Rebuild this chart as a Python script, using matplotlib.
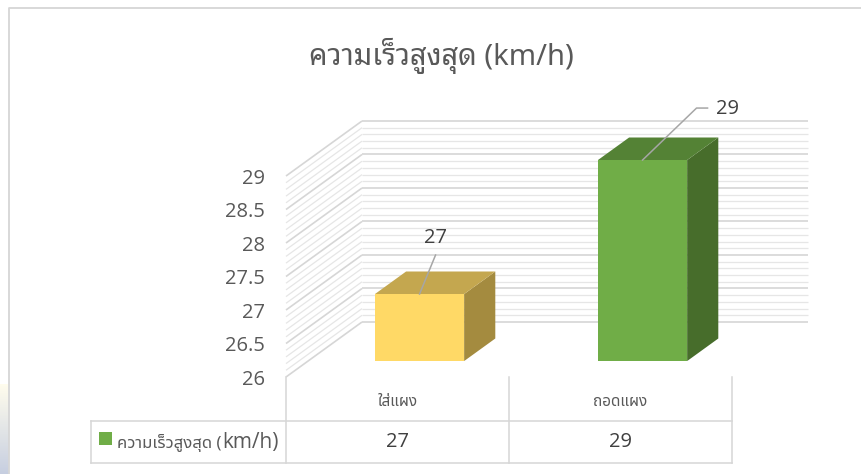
import numpy as np
import matplotlib
matplotlib.use("Agg")
import matplotlib.pyplot as plt
import matplotlib.transforms as mtransforms
from matplotlib.patches import Polygon, Rectangle
from matplotlib.lines import Line2D

# data
categories = ["ใส่แผง", "ถอดแผง"]
values = [27, 29]
series_name = "ความเร็วสูงสุด (km/h)"
title = "ความเร็วสูงสุด (km/h)"
y_min, y_max, y_step, y_minor = 26, 29, 0.5, 0.1

# styling
W, H, DPI = 862, 474, 100
TXT = "#595959"
GRID_MAJOR = "#d6d6d6"
GRID_MINOR = "#e6e6e6"
FRONT = ["#ffd966", "#70ad47"]
TOP = ["#c4a74f", "#548235"]
SIDE = ["#a48b3f", "#476d2b"]
LATIN = ["Open Sans", "DejaVu Sans"]
THAI_LOOP = ["Noto Sans Thai Looped", "Open Sans", "DejaVu Sans"]
THAI = ["Noto Sans Thai", "Open Sans", "DejaVu Sans"]
DX, DY = 76, 55          # depth offset of the back wall, px
Z0, Z1 = 0.29, 0.70      # bar depth span (fraction of full depth)
HALF_W = 0.2             # half bar width in category units

fig = plt.figure(figsize=(W / DPI, H / DPI), dpi=DPI)
fig.patch.set_facecolor("white")

def fx(px):
    return px / W

def fy(py):
    return 1 - py / H

# faint backdrop showing at the lower left outside the chart frame
bg = fig.add_axes([0, 0, fx(9), 90 / H])
grad = np.linspace(0, 1, 64)[:, None, None]
c_top = np.array([1.0, 0.99, 0.93])
c_bot = np.array([0.78, 0.81, 0.88])
bg.imshow(c_top * (1 - grad) + c_bot * grad, aspect="auto", extent=(0, 1, 0, 1))
bg.set_axis_off()

# front plane of the 3-D plot
left, right, top_px, bot_px = 286, 732, 176, 377
ax = fig.add_axes([fx(left), fy(bot_px), fx(right - left), (bot_px - top_px) / H])
ax.set_xlim(0, len(categories))
ax.set_ylim(y_min, y_max)
ax.patch.set_visible(False)
for s in ax.spines.values():
    s.set_visible(False)
ax.set_xticks([])
yt = np.arange(y_min, y_max + 1e-9, y_step)
ax.set_yticks(yt)
ax.set_yticklabels([f"{v:g}" for v in yt], fontsize=14.5, color=TXT, family=LATIN)
ax.tick_params(axis="y", length=0, pad=15)

ident = mtransforms.IdentityTransform()

def P(x, v, z):
    d = ax.transData.transform((x, v))
    return (d[0] + z * DX, d[1] + z * DY)

def seg(p, q, color, lw, zorder=1):
    ax.add_line(Line2D([p[0], q[0]], [p[1], q[1]], color=color, lw=lw,
                       transform=ident, clip_on=False, zorder=zorder,
                       solid_capstyle="butt"))

# back wall and side wall gridlines
n = len(categories)
for v in np.arange(y_min, y_max + 1e-9, y_minor):
    major = abs(v / y_step - round(v / y_step)) < 1e-6
    c = GRID_MAJOR if major else GRID_MINOR
    lw = 1.2 if major else 0.9
    z = 1.5 if major else 1
    seg(P(0, v, 1), P(n, v, 1), c, lw, zorder=z)
    seg(P(0, v, 0), P(0, v, 1), c, lw, zorder=z)

# 3-D bars
for i, v in enumerate(values):
    c = i + 0.5
    xl, xr = c - HALF_W, c + HALF_W
    front = [P(xl, y_min, Z0), P(xr, y_min, Z0), P(xr, v, Z0), P(xl, v, Z0)]
    topf = [P(xl, v, Z0), P(xr, v, Z0), P(xr, v, Z1), P(xl, v, Z1)]
    side = [P(xr, y_min, Z0), P(xr, y_min, Z1), P(xr, v, Z1), P(xr, v, Z0)]
    for verts, col in ((side, SIDE[i]), (topf, TOP[i]), (front, FRONT[i])):
        ax.add_patch(Polygon(verts, closed=True, facecolor=col, edgecolor="none",
                             transform=ident, clip_on=False, zorder=3))

# data labels with leader lines
label_leaders = [[(0, 0), (16, 39)], [(0, 0), (54, 52), (65, 52)]]
label_pos = [((16, 56), "center"), ((73, 51), "left")]
for i, v in enumerate(values):
    sx, sy = P(i + 0.5, v, Z0)
    pts = label_leaders[i]
    xs = [sx + p[0] for p in pts]
    ys = [sy + p[1] for p in pts]
    ax.add_line(Line2D(xs, ys, color="#a6a6a6", lw=1.1, transform=ident,
                       clip_on=False, zorder=4))
    (ox, oy), ha = label_pos[i]
    ax.text(sx + ox, sy + oy, f"{v:g}", transform=ident, ha=ha, va="center",
            fontsize=14.5, color="#404040", family=LATIN, zorder=5)

# title
fig.text(fx(441), fy(65), title, ha="center", va="baseline", fontsize=21,
         color=TXT, family=THAI_LOOP, fontweight="medium")

# chart border (left and top edges)
fig.add_artist(Line2D([fx(9.5), fx(9.5), fx(W + 5)], [fy(H + 5), fy(7.5), fy(7.5)],
                      color=GRID_MAJOR, lw=1.3))

# data table below the plot
edges_x = [ax.transData.transform((k, y_min))[0] for k in range(n + 1)]
row_top, row_bot, tbl_left = 421, 463, 91
for ex in edges_x:
    fig.add_artist(Line2D([fx(ex), fx(ex)], [fy(bot_px), fy(row_bot)],
                          color=GRID_MAJOR, lw=1.1))
fig.add_artist(Line2D([fx(tbl_left), fx(tbl_left)], [fy(row_top), fy(row_bot)],
                      color=GRID_MAJOR, lw=1.1))
for ry in (row_top, row_bot):
    fig.add_artist(Line2D([fx(tbl_left), fx(edges_x[-1])], [fy(ry), fy(ry)],
                          color=GRID_MAJOR, lw=1.1))
for i, (cat, v) in enumerate(zip(categories, values)):
    cx = (edges_x[i] + edges_x[i + 1]) / 2
    fig.text(fx(cx), fy(403), cat, ha="center", va="center", fontsize=11,
             color=TXT, family=THAI)
    fig.text(fx(cx), fy(442), f"{v:g}", ha="center", va="center", fontsize=14.5,
             color="#404040", family=LATIN)

# legend key inside the table
fig.add_artist(Rectangle((fx(99), fy(445)), fx(13), 13 / H, facecolor=FRONT[1],
                         edgecolor="none"))
thai_part, latin_part = series_name.split("(")
t1 = fig.text(fx(117), fy(448), thai_part + "(", ha="left", va="baseline",
              fontsize=12, color=TXT, family=THAI)
fig.canvas.draw()
bb = t1.get_window_extent()
fig.text(bb.x1 / W + fx(1), fy(448), latin_part, ha="left", va="baseline",
         fontsize=15, color=TXT, family=LATIN)

fig.savefig("out.png", dpi=DPI)
